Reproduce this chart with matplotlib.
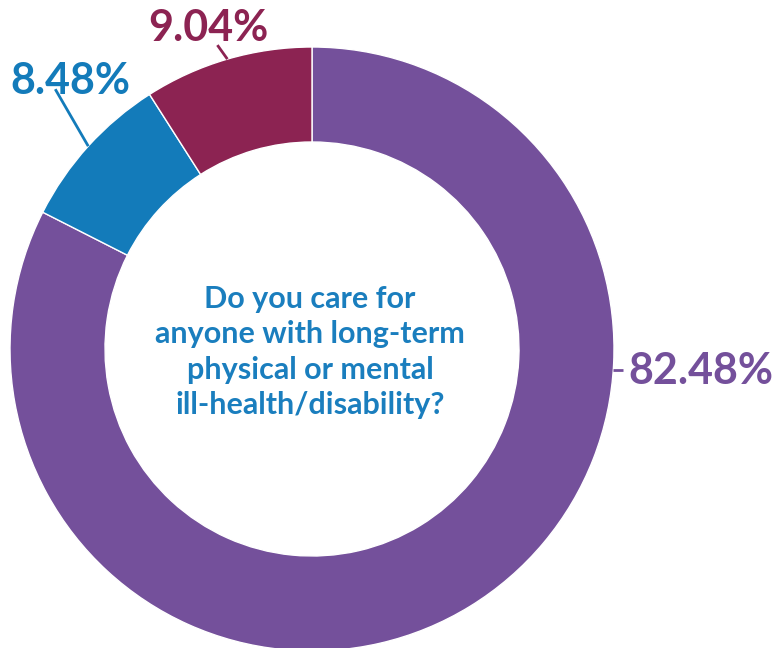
import numpy as np
import matplotlib
matplotlib.use("Agg")
import matplotlib.pyplot as plt

# ---------- data ----------
shares = [82.48, 8.48, 9.04]
colors = ["#74509B", "#137BBA", "#8C2352"]
question = "Do you care for\nanyone with long-term\nphysical or mental\nill-health/disability?"

plt.rcParams["font.family"] = ["Lato", "DejaVu Sans"]

W, H = 776, 648
fig = plt.figure(figsize=(W / 100, H / 100), dpi=100)
ax = fig.add_axes([0, 0, 1, 1])

cx, cy = 312, H - 349
R, r_in = 302, 207

wedges, _ = ax.pie(shares, colors=colors, startangle=90, counterclock=False,
                   center=(cx, cy), radius=R, frame=True,
                   wedgeprops=dict(width=R - r_in, edgecolor="white", linewidth=1))
ax.set_xlim(0, W)
ax.set_ylim(0, H)
ax.set_aspect("equal")
ax.axis("off")

# ---------- percentage labels with short leader lines ----------
# (angle on ring in degrees, leader end offset in px, text position, ha)
label_layout = [
    (-4, (10, 0), (628, H - 371), "left"),
    (None, (-33, 57), (70, H - 81), "center"),
    (None, (-10, 14), (208, H - 28), "center"),
]
for w, val, col, (ang, off, tpos, ha) in zip(wedges, shares, colors, label_layout):
    if ang is None:
        ang = (w.theta1 + w.theta2) / 2
    a = np.deg2rad(ang)
    x0, y0 = cx + R * np.cos(a), cy + R * np.sin(a)
    ax.plot([x0, x0 + off[0]], [y0, y0 + off[1]], color=col, lw=2, solid_capstyle="butt")
    ax.text(tpos[0], tpos[1], f"{val:.2f}%", color=col, fontsize=31, fontweight="bold",
            ha=ha, va="center")

ax.text(cx - 2, H - 352, question, color="#1A7EBE", fontsize=22, fontweight="bold",
        ha="center", va="center", linespacing=1.33)

fig.savefig("out.png", dpi=100)
